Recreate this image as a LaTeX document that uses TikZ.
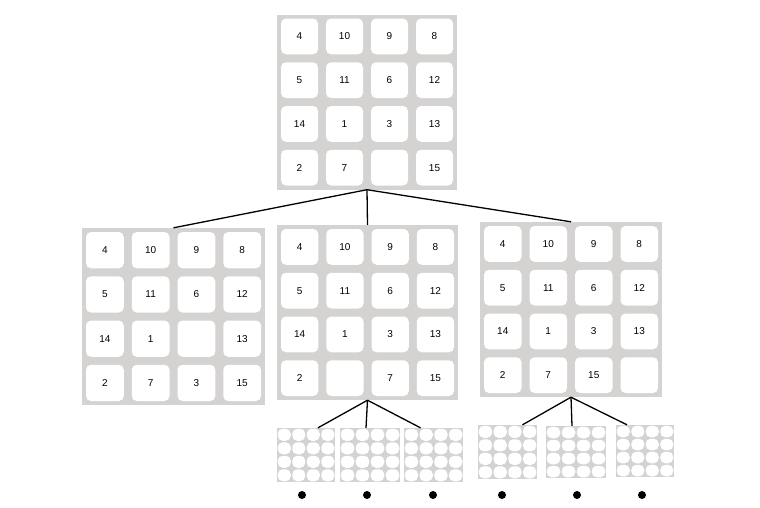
\documentclass[tikz,border=0pt]{standalone}
\usepackage{fontspec}
\setmainfont{Liberation Sans}
\definecolor{bgray}{HTML}{D4D3D1}
\tikzset{board/.style={fill=bgray,draw=none,inner sep=0pt},
 tile/.style={fill=white,draw=none,rounded corners=5pt,inner sep=0pt,font=\fontsize{10}{12}\selectfont},
 link/.style={line width=1.3pt,black}}
\newcommand\bd[7]{%
 \node[board,minimum width=#4pt,minimum height=#5pt] (#1) at (#2,#3) {};
 \foreach \t [count=\i from 0] in {#6} {
  \pgfmathsetmacro\cc{mod(\i,4)}\pgfmathsetmacro\rr{int(\i/4)}
  \node[tile,minimum width={#4/4-#7}, minimum height={#5/4-#7}] at ({#2-#4/2+(\cc+0.5)*#4/4},{#3-#5/2+(\rr+0.5)*#5/4}) {\t};}}
\newcommand\sm[5]{%
 \node[board,minimum width=#4pt,minimum height=#5pt] (#1) at (#2,#3) {};
 \foreach \i in {0,...,15} {
  \pgfmathsetmacro\cc{mod(\i,4)}\pgfmathsetmacro\rr{int(\i/4)}
  \node[fill=white,rounded corners=5pt,inner sep=0pt,minimum width={#4/4-1.5}, minimum height={#5/4-1.5}] at ({#2-#4/2+(\cc+0.5)*#4/4},{#3-#5/2+(\rr+0.5)*#5/4}) {};}}
\begin{document}
\begin{tikzpicture}[x=1pt,y=-1pt]
\useasboundingbox[fill=white] (0,0) rectangle (760,507);
\bd{top}{367}{102}{180}{175}{4,10,9,8,5,11,6,12,14,1,3,13,2,7,{},15}{8}
\bd{left}{173.5}{316.5}{183}{177}{4,10,9,8,5,11,6,12,14,1,{},13,2,7,3,15}{8}
\bd{mid}{367.5}{312.5}{181}{175}{4,10,9,8,5,11,6,12,14,1,3,13,2,{},7,15}{8}
\bd{right}{571}{309.5}{182}{175}{4,10,9,8,5,11,6,12,14,1,3,13,2,7,15,{}}{8}
\sm{s1}{306}{455}{58}{54}
\sm{s2}{370}{455}{60}{54}
\sm{s3}{433.5}{455}{59}{54}
\sm{s4}{507.5}{452}{59}{54}
\sm{s5}{576}{452}{60}{52}
\sm{s6}{645}{451}{58}{52}
\foreach \n/\x in {d1/302,d2/367,d3/433,d4/502,d5/577,d6/642}
 \node[circle,fill=black,inner sep=0pt,minimum size=8pt] (\n) at (\x,495) {};
\draw[link] (top.south) -- (left.north);
\draw[link] (top.south) -- (mid.north);
\draw[link] (top.south) -- (right.north);
\draw[link] (mid.south) -- ([xshift=12pt]s1.north);
\draw[link] (mid.south) -- ([xshift=-4pt]s2.north);
\draw[link] (mid.south) -- ([xshift=-13pt]s3.north);
\draw[link] (right.south) -- ([xshift=15pt]s4.north);
\draw[link] (right.south) -- ([xshift=-4pt]s5.north);
\draw[link] (right.south) -- ([xshift=-18pt]s6.north);
\end{tikzpicture}
\end{document}
